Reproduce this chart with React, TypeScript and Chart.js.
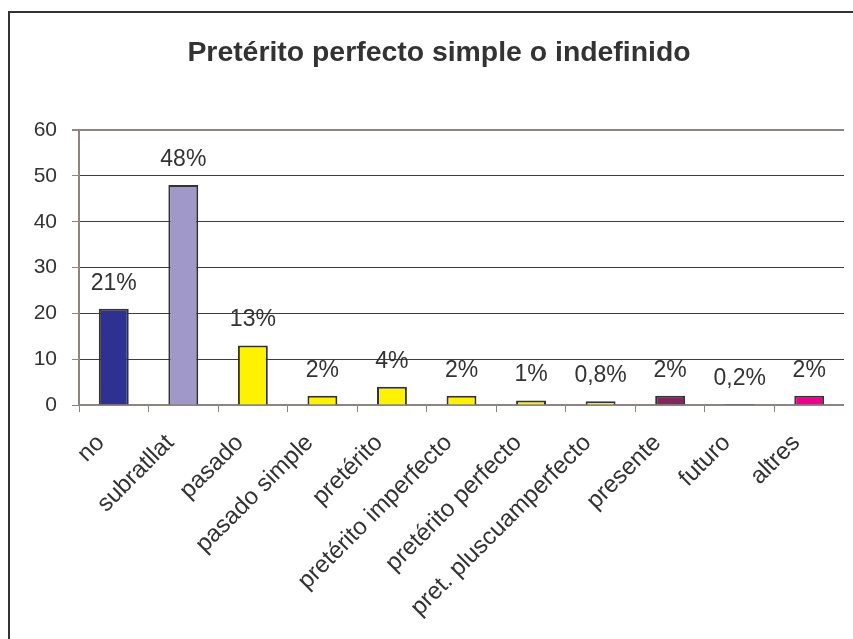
import React, { useEffect, useRef } from "react";
import { Chart, registerables } from "chart.js";

Chart.register(...registerables);

const TITLE = "Pretérito perfecto simple o indefinido";
const categories = [
  "no",
  "subratllat",
  "pasado",
  "pasado simple",
  "pretérito",
  "pretérito imperfecto",
  "pretérito perfecto",
  "pret. pluscuamperfecto",
  "presente",
  "futuro",
  "altres",
];
const values = [21, 48, 13, 2, 4, 2, 1, 0.8, 2, 0.2, 2];
const valueLabels = ["21%", "48%", "13%", "2%", "4%", "2%", "1%", "0,8%", "2%", "0,2%", "2%"];
const barColors = [
  "#2E3192",
  "#9F98C8",
  "#FFF200",
  "#FFF200",
  "#FFF200",
  "#FFF200",
  "#FFF200",
  "#FFF200",
  "#80285A",
  "#3a2a5a",
  "#EC008C",
];
const yTicks = [0, 10, 20, 30, 40, 50, 60];

const FONT = "'Liberation Sans', Arial, Helvetica, sans-serif";
const TEXT = "#333333";
const AXIS = "#8c8582";

const valueLabelPlugin = {
  id: "valueLabels",
  afterDatasetsDraw(chart: any) {
    const ctx = chart.ctx;
    const meta = chart.getDatasetMeta(0);
    ctx.save();
    ctx.font = `23px ${FONT}`;
    ctx.fillStyle = TEXT;
    ctx.textAlign = "center";
    ctx.textBaseline = "middle";
    meta.data.forEach((bar: any, i: number) => {
      ctx.fillText(valueLabels[i], bar.x, bar.y - 25.5);
    });
    ctx.restore();
  },
};

export default function App() {
  const ref = useRef<HTMLCanvasElement | null>(null);

  useEffect(() => {
    if (!ref.current) return;
    const chart = new Chart(ref.current, {
      type: "bar",
      data: {
        labels: categories,
        datasets: [
          {
            data: values,
            backgroundColor: barColors,
            borderColor: "#333333",
            borderWidth: 2,
            barPercentage: 0.43,
            categoryPercentage: 1,
          },
        ],
      },
      options: {
        responsive: false,
        animation: false,
        layout: { padding: { left: 24, right: 0, top: 0, bottom: 0 } },
        plugins: {
          legend: { display: false },
          tooltip: { enabled: false },
          title: {
            display: true,
            text: TITLE,
            color: TEXT,
            font: { family: FONT, size: 28.4, weight: "bold" },
            padding: { top: 23, bottom: 60 },
          },
        },
        scales: {
          x: {
            grid: {
              drawOnChartArea: false,
              drawTicks: true,
              tickLength: 7,
              color: AXIS,
              offset: true,
            },
            border: { color: AXIS, width: 2 },
            ticks: {
              autoSkip: false,
              maxRotation: 45,
              minRotation: 45,
              padding: 17,
              labelOffset: -13,
              color: TEXT,
              font: { family: FONT, size: 24 },
            },
            afterFit(scale: any) {
              scale.height = 234;
              scale.paddingLeft = 0;
              scale.paddingRight = 0;
            },
          },
          y: {
            min: 0,
            max: 60,
            afterBuildTicks(scale: any) {
              scale.ticks = yTicks.map((v) => ({ value: v }));
            },
            afterFit(scale: any) {
              scale.width = 45;
            },
            grid: {
              color: (c: any) =>
                c.tick && (c.tick.value === 60 || c.tick.value === 0) ? AXIS : "#3d3d3d",
              lineWidth: (c: any) => (c.tick && c.tick.value === 60 ? 2 : 1),
              tickColor: AXIS,
              tickLength: 7,
            },
            border: { color: AXIS, width: 2 },
            ticks: {
              padding: 15,
              color: TEXT,
              font: { family: FONT, size: 21 },
            },
          },
        },
      },
      plugins: [valueLabelPlugin],
    });
    return () => chart.destroy();
  }, []);

  return (
    <div
      style={{
        position: "fixed",
        left: 8,
        top: 11,
        width: 845,
        height: 628,
        borderLeft: "2px solid #333",
        borderTop: "2px solid #333",
        background: "#fff",
      }}
    >
      <canvas ref={ref} width={834} height={626} style={{ display: "block" }} />
    </div>
  );
}
